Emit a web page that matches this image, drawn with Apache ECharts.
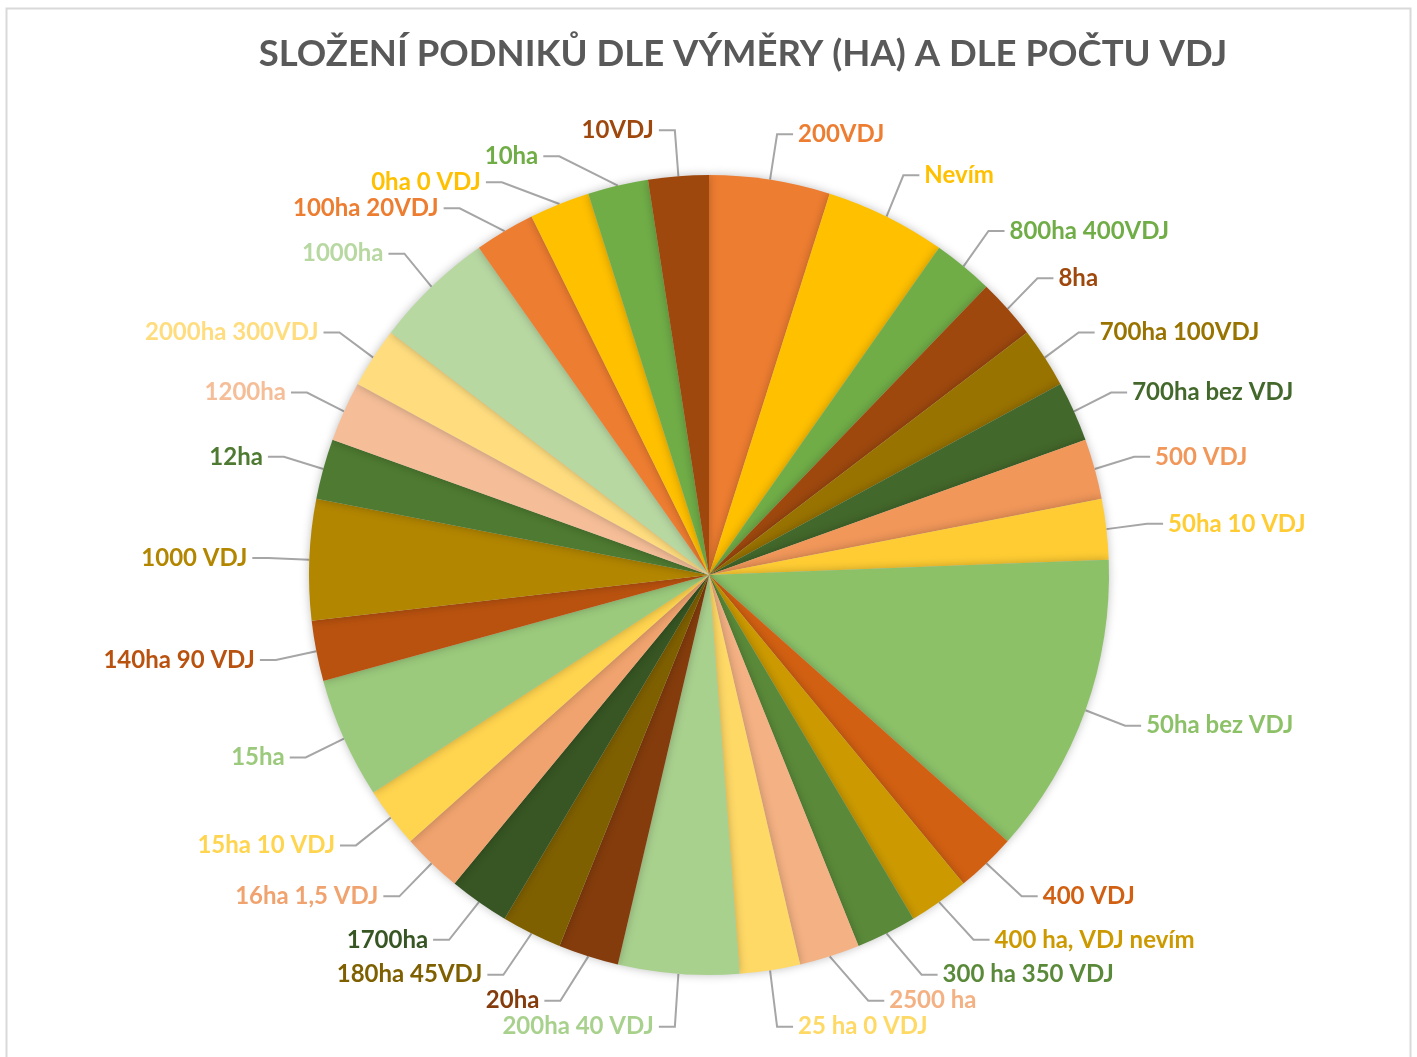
<!DOCTYPE html>
<html>
<head>
<meta charset="utf-8">
<script src="https://cdn.jsdelivr.net/npm/echarts@6/dist/echarts.min.js"></script>
<style>
	html, body { margin: 0; padding: 0; background: #fff; }
	#chart { width: 1417px; height: 1057px; }
</style>
</head>
<body>
<div id="chart"></div>
<script>
var categories = ['200VDJ', 'Nevím', '800ha 400VDJ', '8ha', '700ha 100VDJ', '700ha bez VDJ', '500 VDJ', '50ha 10 VDJ',
	'50ha bez VDJ', '400 VDJ', '400 ha, VDJ nevím', '300 ha 350 VDJ', '2500 ha', '25 ha 0 VDJ', '200ha 40 VDJ', '20ha',
	'180ha 45VDJ', '1700ha', '16ha 1,5 VDJ', '15ha 10 VDJ', '15ha', '140ha 90 VDJ', '1000 VDJ', '12ha', '1200ha',
	'2000ha 300VDJ', '1000ha', '100ha 20VDJ', '0ha 0 VDJ', '10ha', '10VDJ'];
var counts = [2, 2, 1, 1, 1, 1, 1, 1,
	5, 1, 1, 1, 1, 1, 2, 1,
	1, 1, 1, 1, 2, 1, 2, 1, 1,
	1, 2, 1, 1, 1, 1];
var palette = ['#ED7D31', '#FFC000', '#70AD47', '#9E480E', '#997300', '#43682B', '#F1975A', '#FFCD33',
	'#8CC168', '#D26012', '#CC9A00', '#5A8A39', '#F4B183', '#FFD966', '#A9D18E', '#843C0C',
	'#7F6000', '#375623', '#F0A36E', '#FFD44F', '#9BCA7C', '#B9520F', '#B38600', '#4E7A31', '#F5BE98',
	'#FFDD7F', '#B8D8A2', '#ED7D31', '#FFC000', '#70AD47', '#9E480E'];

var pieData = [];
for(var i = 0; i < categories.length; i++) {
	pieData.push({
		name: categories[i],
		value: counts[i],
		itemStyle: { color: palette[i] }
	});
}

var chart = echarts.init(document.getElementById('chart'));
chart.setOption({
	animation: false,
	graphic: [{
		type: 'rect',
		shape: { x: 6.5, y: 8.5, width: 1404, height: 1080 },
		style: { fill: 'none', stroke: '#D9D9D9', lineWidth: 2 },
		z: -1
	}],
	title: {
		text: 'SLOŽENÍ PODNIKŮ DLE VÝMĚRY (HA) A DLE POČTU VDJ',
		left: 738,
		top: 31,
		textAlign: 'center',
		textStyle: {
			fontFamily: 'Lato',
			fontSize: 36.5,
			fontWeight: 'bold',
			color: '#595959'
		}
	},
	series: [{
		type: 'pie',
		center: [709, 575],
		radius: 400,
		startAngle: 90,
		clockwise: true,
		data: pieData,
		itemStyle: {
			borderWidth: 0,
			shadowBlur: 10,
			shadowColor: 'rgba(0,0,0,0.25)'
		},
		label: {
			show: true,
			color: 'inherit',
			fontFamily: 'Lato',
			fontSize: 24,
			fontWeight: 'bold',
			formatter: '{b}'
		},
		labelLine: {
			show: true,
			length: 46,
			length2: 16,
			lineStyle: { color: '#A6A6A6', width: 2 }
		},
		emphasis: { disabled: true }
	}]
});
</script>
</body>
</html>
